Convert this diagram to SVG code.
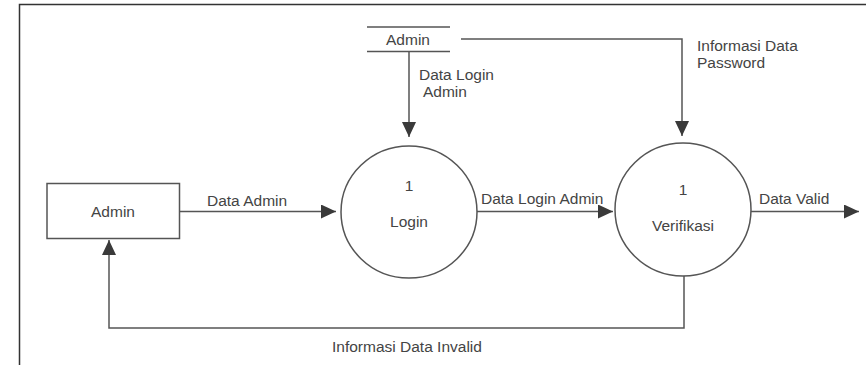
<svg xmlns="http://www.w3.org/2000/svg" width="866" height="365" viewBox="0 0 866 365">
<style>
text{font-family:"Liberation Sans",Arial,sans-serif;font-size:15.5px;fill:#444}
.shape{fill:#fff;stroke:#555;stroke-width:1.5}
.flow{fill:none;stroke:#555;stroke-width:1.5}
</style>
<defs>
<marker id="arr" markerUnits="userSpaceOnUse" markerWidth="15" markerHeight="14" refX="15" refY="7" orient="auto">
<path d="M0,0 L15,7 L0,14 Z" fill="#3a3a3a"/>
</marker>
</defs>
<rect x="0" y="0" width="866" height="365" fill="#fff"/>
<rect x="19.5" y="4.5" width="900" height="400" fill="none" stroke="#333" stroke-width="1.5"/>

<g id="connectors">
<g id="e-store-login">
<path class="flow" d="M409,52 V137" marker-end="url(#arr)"/>
<text x="419" y="80">Data Login</text>
<text x="423" y="97">Admin</text>
</g>
<g id="e-store-verif">
<path class="flow" d="M461,39 H682 V136" marker-end="url(#arr)"/>
<text x="697" y="51">Informasi Data</text>
<text x="697" y="68">Password</text>
</g>
<g id="e-admin-login">
<path class="flow" d="M179.5,211.5 H336" marker-end="url(#arr)"/>
<text x="207" y="206">Data Admin</text>
</g>
<g id="e-login-verif">
<path class="flow" d="M477,211.5 H613" marker-end="url(#arr)"/>
<text x="481" y="204">Data Login Admin</text>
</g>
<g id="e-verif-out">
<path class="flow" d="M751,211.5 H859" marker-end="url(#arr)"/>
<text x="759" y="204">Data Valid</text>
</g>
<g id="e-verif-admin">
<path class="flow" d="M684,276 V328 H109 V240" marker-end="url(#arr)"/>
<text x="332" y="352">Informasi Data Invalid</text>
</g>
</g>

<g id="store-admin">
<line class="flow" x1="367" y1="27" x2="450" y2="27"/>
<line class="flow" x1="367" y1="51.5" x2="450" y2="51.5"/>
<text x="408" y="45" text-anchor="middle">Admin</text>
</g>

<g id="admin-entity">
<rect class="shape" x="47" y="183.5" width="132.5" height="55"/>
<text x="113" y="217" text-anchor="middle">Admin</text>
</g>

<g id="p-login">
<ellipse class="shape" cx="409" cy="212" rx="68" ry="66"/>
<text x="409" y="191" text-anchor="middle">1</text>
<text x="409" y="227" text-anchor="middle">Login</text>
</g>

<g id="p-verifikasi">
<ellipse class="shape" cx="683" cy="209.5" rx="68" ry="66.5"/>
<text x="683" y="195" text-anchor="middle">1</text>
<text x="683" y="231" text-anchor="middle">Verifikasi</text>
</g>
</svg>
